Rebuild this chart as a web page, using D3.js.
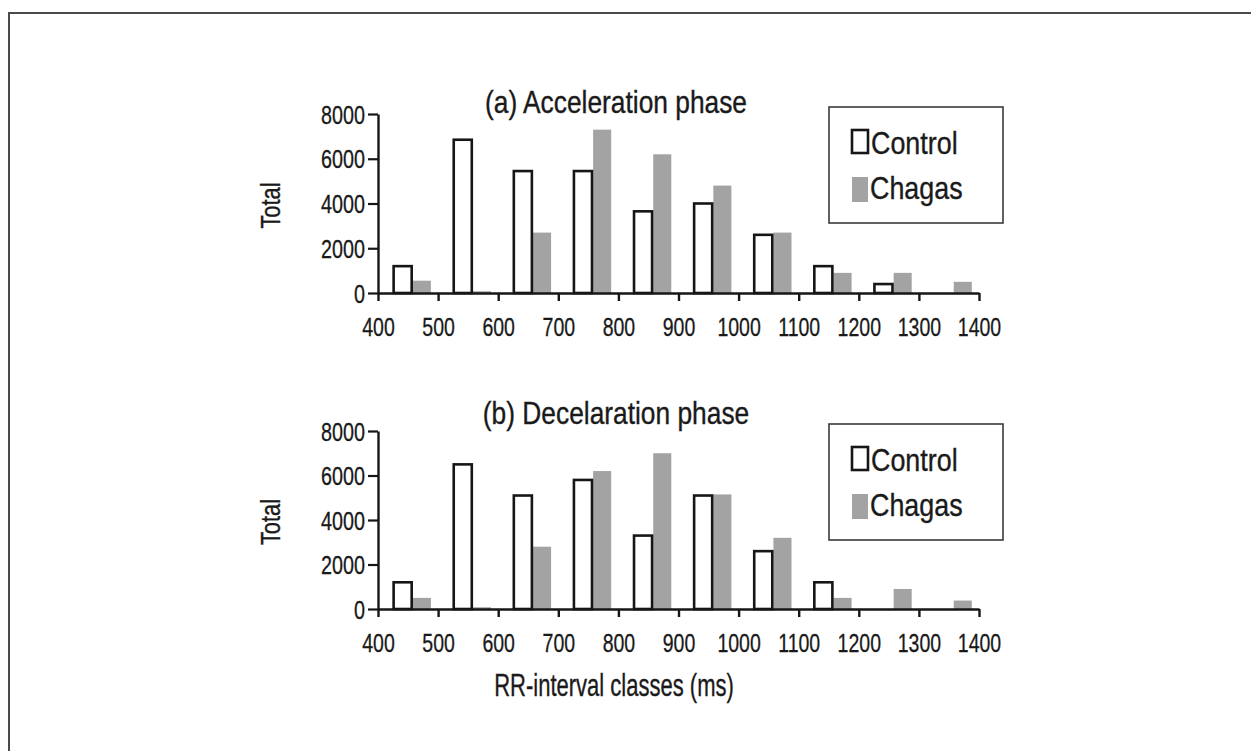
<!DOCTYPE html>
<meta charset="utf-8">
<style>
body{
    margin: 0;
    background: #fff;
}
svg text{
    font-family: "Liberation Sans", Arial, sans-serif;
    fill: #1a1a1a;
}
</style>
<body>
    <svg id="chart" width="1251" height="751"></svg>
    <script src="https://d3js.org/d3.v7.min.js"></script>
    <script>
        // RR-interval classes (start of each class, ms)
        const bins = [400, 500, 600, 700, 800, 900, 1000, 1100, 1200, 1300];
        const xTickLabels = [400, 500, 600, 700, 800, 900, 1000, 1100, 1200, 1300, 1400];
        const yTickLabels = [0, 2000, 4000, 6000, 8000];
        const seriesNames = ["Control", "Chagas"];

        // (a) acceleration phase
        const accControl = [1200, 6850, 5450, 5450, 3650, 4000, 2600, 1200, 400, 0];
        const accChagas  = [550, 80, 2700, 7300, 6200, 4800, 2700, 900, 900, 500];
        // (b) deceleration phase
        const decControl = [1200, 6500, 5100, 5800, 3300, 5100, 2600, 1200, 0, 0];
        const decChagas  = [500, 80, 2800, 6200, 7000, 5150, 3200, 500, 900, 380];

        const panels = [
            {title: "(a) Acceleration phase", control: accControl, chagas: accChagas, top: 114, base: 293, titleY: 113},
            {title: "(b) Decelaration phase", control: decControl, chagas: decChagas, top: 431, base: 609, titleY: 424}
        ];

        const grey = "#a3a3a3";
        const ink = "#161616";

        const svg = d3.select("#chart");

        // outer frame (only top and left edges are visible)
        svg.append("path")
            .attr("d", "M9,751V13H1251")
            .attr("fill", "none")
            .attr("stroke", "#4a4a4a")
            .attr("stroke-width", 2);

        const x = d3.scaleLinear()
                    .domain([400, 1400])
                    .range([378, 979]);
        // position of the two bars inside a class, in ms
        const xs = d3.scaleBand()
                    .domain(seriesNames)
                    .range([26, 88])
                    .paddingInner(0.06);

        // text squeezed sideways like the narrow face of the original
        function putText(g, str, px, py, size, k, anchor) {
            return g.append("text")
                .attr("transform", `translate(${px},${py}) scale(${k},1)`)
                .attr("text-anchor", anchor || "middle")
                .style("font-size", size + "px")
                .style("stroke", "#1a1a1a")
                .style("stroke-width", 0.35)
                .text(str);
        }

        panels.forEach(function(p) {
            const y = d3.scaleLinear()
                        .domain([0, 8000])
                        .range([p.base, p.top]);
            const g = svg.append("g");

            const rows = bins.map((b, i) => ({bin: b, Control: p.control[i], Chagas: p.chagas[i]}));

            // Chagas bars (grey, no outline)
            g.selectAll("rect.chagas")
                .data(rows.filter(d => d.Chagas > 0))
                .join("rect")
                .attr("class", "chagas")
                .attr("x", d => x(d.bin + xs("Chagas")))
                .attr("width", d => x(d.bin + xs("Chagas") + xs.bandwidth()) - x(d.bin + xs("Chagas")))
                .attr("y", d => y(d.Chagas))
                .attr("height", d => y(0) - y(d.Chagas))
                .style("fill", grey);

            // Control bars (white, black outline)
            g.selectAll("rect.control")
                .data(rows.filter(d => d.Control > 0))
                .join("rect")
                .attr("class", "control")
                .attr("x", d => x(d.bin + xs("Control")))
                .attr("width", d => x(d.bin + xs("Control") + xs.bandwidth()) - x(d.bin + xs("Control")))
                .attr("y", d => y(d.Control))
                .attr("height", d => y(0) - y(d.Control))
                .style("fill", "#fff")
                .style("stroke", ink)
                .style("stroke-width", 2.6);

            // x axis
            const xAxis = g.append("g")
                .attr("transform", `translate(0,${p.base})`)
                .call(d3.axisBottom(x).tickValues(xTickLabels).tickSize(8).tickSizeOuter(0).tickFormat(d3.format("d")));
            xAxis.select(".domain").attr("stroke", ink).attr("stroke-width", 2.4);
            xAxis.selectAll(".tick line").attr("stroke", ink).attr("stroke-width", 2.4);
            xAxis.selectAll(".tick text")
                .attr("y", 0).attr("dy", 0)
                .attr("transform", "translate(0,43) scale(0.75,1)")
                .style("font-size", "26px")
                .style("font-family", "\"Liberation Sans\", Arial, sans-serif")
                .style("stroke", ink)
                .style("stroke-width", 0.3)
                .attr("fill", ink);

            // y axis
            const yAxis = g.append("g")
                .attr("transform", "translate(378,0)")
                .call(d3.axisLeft(y).tickValues(yTickLabels).tickSize(10).tickSizeOuter(0).tickFormat(d3.format("d")));
            yAxis.select(".domain").attr("stroke", ink).attr("stroke-width", 2.4);
            yAxis.selectAll(".tick line").attr("stroke", ink).attr("stroke-width", 2.2);
            yAxis.selectAll(".tick text")
                .attr("x", 0).attr("dy", 0)
                .attr("transform", "translate(-13,9) scale(0.76,1)")
                .style("font-size", "26px")
                .style("font-family", "\"Liberation Sans\", Arial, sans-serif")
                .style("stroke", ink)
                .style("stroke-width", 0.3)
                .attr("fill", ink);

            // titles
            putText(g, p.title, 616, p.titleY, 31, 0.85);
            putText(g, "Total", 0, 0, 28, 1)
                .attr("transform", `translate(280,${(p.top + p.base) / 2 + 2}) rotate(-90) scale(0.78,1)`);

            // legend
            const lg = g.append("g")
                .attr("transform", `translate(829,${p.top - 7})`);
            lg.append("rect")
                .attr("width", 174)
                .attr("height", 116)
                .style("fill", "none")
                .style("stroke", "#3a3a3a")
                .style("stroke-width", 1.6);
            lg.append("rect")
                .attr("x", 23).attr("y", 23)
                .attr("width", 16).attr("height", 23)
                .style("fill", "#fff")
                .style("stroke", ink)
                .style("stroke-width", 2.6);
            lg.append("rect")
                .attr("x", 23).attr("y", 70)
                .attr("width", 16).attr("height", 25)
                .style("fill", grey);
            putText(lg, seriesNames[0], 42, 47, 32, 0.84, "start");
            putText(lg, seriesNames[1], 41, 92, 32, 0.84, "start");
        });

        putText(svg, "RR-interval classes (ms)", 614, 696, 31, 0.71);
    </script>
</body>
</html>
